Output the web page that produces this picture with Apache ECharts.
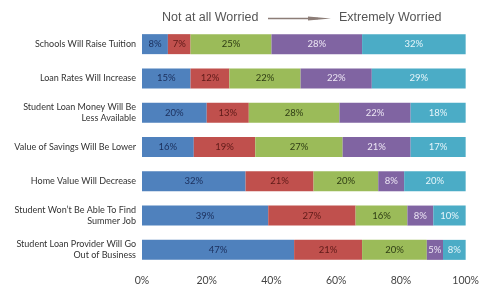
<!DOCTYPE html>
<html>
<head>
<meta charset="utf-8">
<script src="https://cdn.jsdelivr.net/npm/echarts@6/dist/echarts.min.js"></script>
<style>html,body{margin:0;padding:0;background:#fff}#c{width:482px;height:286px}</style>
</head>
<body>
<div id="c"></div>
<script>
var categories = [
  "Schools Will Raise Tuition",
  "Loan Rates Will Increase",
  "Student Loan Money Will Be\nLess Available",
  "Value of Savings Will Be Lower",
  "Home Value Will Decrease",
  "Student Won\u2019t Be Able To Find\nSummer Job",
  "Student Loan Provider Will Go\nOut of Business"
];
var level1 = [8, 15, 20, 16, 32, 39, 47];
var level2 = [7, 12, 13, 19, 21, 27, 21];
var level3 = [25, 22, 28, 27, 20, 16, 20];
var level4 = [28, 22, 22, 21, 8, 8, 5];
var level5 = [32, 29, 18, 17, 20, 10, 8];
var xTicks = [0, 20, 40, 60, 80, 100];

var colors = ['#4F81BD', '#C0504D', '#9BBB59', '#8064A2', '#4BACC6'];
var labelColors = ['#1b2f5c', '#5e1a18', '#2f3d14', '#ece6f4', '#e6f5fa'];
var levels = [level1, level2, level3, level4, level5];

var chart = echarts.init(document.getElementById('c'));
chart.setOption({
  animation: false,
  grid: {left: 142, right: 13, top: 27, bottom: 19, containLabel: false},
  xAxis: {
    type: 'value', min: xTicks[0], max: xTicks[xTicks.length - 1], interval: 20,
    axisLine: {show: false}, axisTick: {show: false}, splitLine: {show: false},
    axisLabel: {formatter: '{value}%', color: '#444', fontSize: 10.5, fontFamily: 'Lato', margin: 8}
  },
  yAxis: {
    type: 'category', data: categories, inverse: true,
    axisLine: {show: false}, axisTick: {show: false},
    axisLabel: {color: '#333', fontSize: 9, fontFamily: 'Lato', margin: 6, lineHeight: 11, align: 'right'}
  },
  graphic: [
    {type: 'text', left: 162, top: 11, style: {text: 'Not at all Worried', fill: '#555', font: '12.5px "Liberation Sans", Arial'}},
    {type: 'line', shape: {x1: 268, y1: 18.5, x2: 318, y2: 18.5}, style: {stroke: '#8c7d77', lineWidth: 1.4}},
    {type: 'polygon', shape: {points: [[308, 16.5], [331, 18.5], [308, 20.5]]}, style: {fill: '#8c7d77'}},
    {type: 'text', left: 339, top: 11, style: {text: 'Extremely Worried', fill: '#555', font: '12.5px "Liberation Sans", Arial'}}
  ],
  series: levels.map(function (d, i) {
    return {
      type: 'bar', stack: 'all', data: d, barWidth: 20,
      itemStyle: {color: colors[i]},
      label: {show: true, position: 'inside', formatter: '{c}%', color: labelColors[i], fontSize: 9.5, fontFamily: 'Lato'}
    };
  })
});
</script>
</body>
</html>
